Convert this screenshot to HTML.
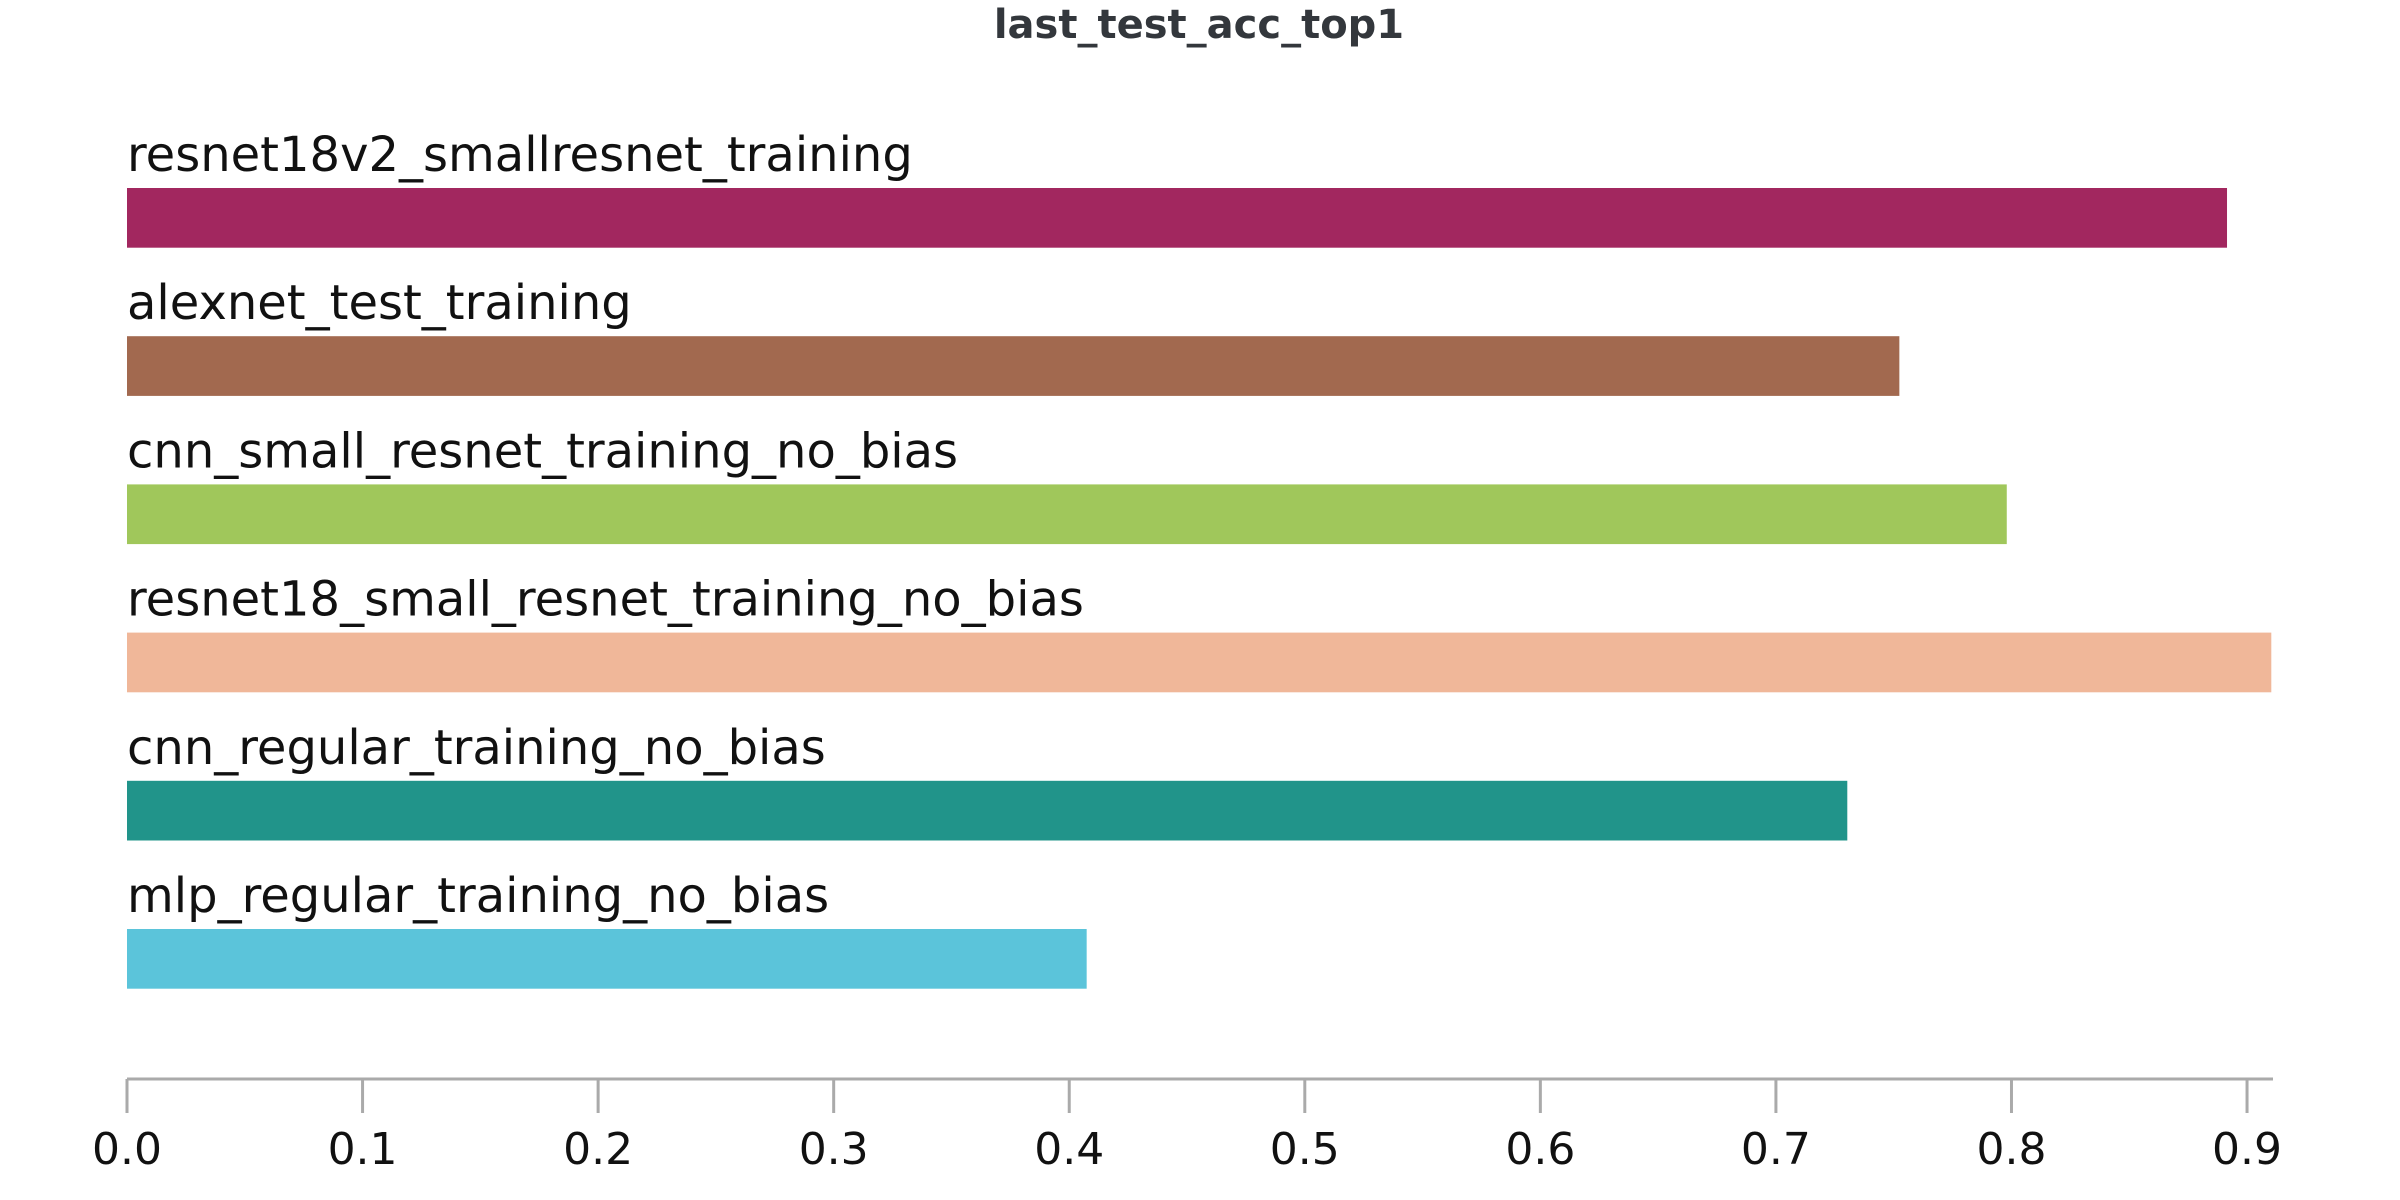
<!DOCTYPE html>
<html><head><meta charset="utf-8"><style>
html,body{margin:0;padding:0;background:#fff}
svg{display:block}
text{font-family:"DejaVu Sans","Liberation Sans",sans-serif}
</style></head><body>
<svg id="chart" width="2400" height="1200" viewBox="0 0 2400 1200" xmlns="http://www.w3.org/2000/svg">
<text x="1199" y="38" text-anchor="middle" font-size="40" font-weight="bold" fill="#33373c">last_test_acc_top1</text>
<g id="bars"></g>
<g id="axis"></g>
</svg>
<script>
const categories = ["resnet18v2_smallresnet_training","alexnet_test_training","cnn_small_resnet_training_no_bias","resnet18_small_resnet_training_no_bias","cnn_regular_training_no_bias","mlp_regular_training_no_bias"];
const values = [0.8915, 0.7524, 0.798, 0.9103, 0.7303, 0.4074];
const colors = ["#A2275F","#A2694F","#A0C75B","#F0B799","#21948A","#5BC4DA"];
const ticks = [0,0.1,0.2,0.3,0.4,0.5,0.6,0.7,0.8,0.9];
const tickLabels = ["0.0","0.1","0.2","0.3","0.4","0.5","0.6","0.7","0.8","0.9"];

const NS="http://www.w3.org/2000/svg";
const X0=127, SCALE=2355.6;
function xScale(v){return X0+v*SCALE;}
function yBand(i){return 188+i*148.2;}
const BH=59.7;
const bars=document.getElementById('bars');
const axis=document.getElementById('axis');
categories.forEach((c,i)=>{
  const r=document.createElementNS(NS,'rect');
  r.setAttribute('x',xScale(0));
  r.setAttribute('y',yBand(i));
  r.setAttribute('width',xScale(values[i])-xScale(0));
  r.setAttribute('height',BH);
  r.setAttribute('fill',colors[i]);
  
  
  bars.appendChild(r);
  const t=document.createElementNS(NS,'text');
  t.setAttribute('x',xScale(0));
  t.setAttribute('y',yBand(i)-17);
  t.setAttribute('font-size','48');
  t.setAttribute('fill','#111');
  t.textContent=c;
  
  
  bars.appendChild(t);
});
const line=document.createElementNS(NS,'line');
line.setAttribute('x1',xScale(0));line.setAttribute('x2',2273);
line.setAttribute('y1',1079);line.setAttribute('y2',1079);
line.setAttribute('stroke','#aaa');line.setAttribute('stroke-width','3');


axis.appendChild(line);
ticks.forEach((v,i)=>{
  const l=document.createElementNS(NS,'line');
  l.setAttribute('x1',xScale(v));l.setAttribute('x2',xScale(v));
  l.setAttribute('y1',1079);l.setAttribute('y2',1113);
  l.setAttribute('stroke','#aaa');l.setAttribute('stroke-width','3');
  
  
  axis.appendChild(l);
  const t=document.createElementNS(NS,'text');
  t.setAttribute('x',xScale(v));t.setAttribute('y',1164);
  t.setAttribute('text-anchor','middle');t.setAttribute('font-size','44');
  t.setAttribute('fill','#111');
  t.textContent=tickLabels[i];
  
  
  axis.appendChild(t);
});
</script>
</body></html>
